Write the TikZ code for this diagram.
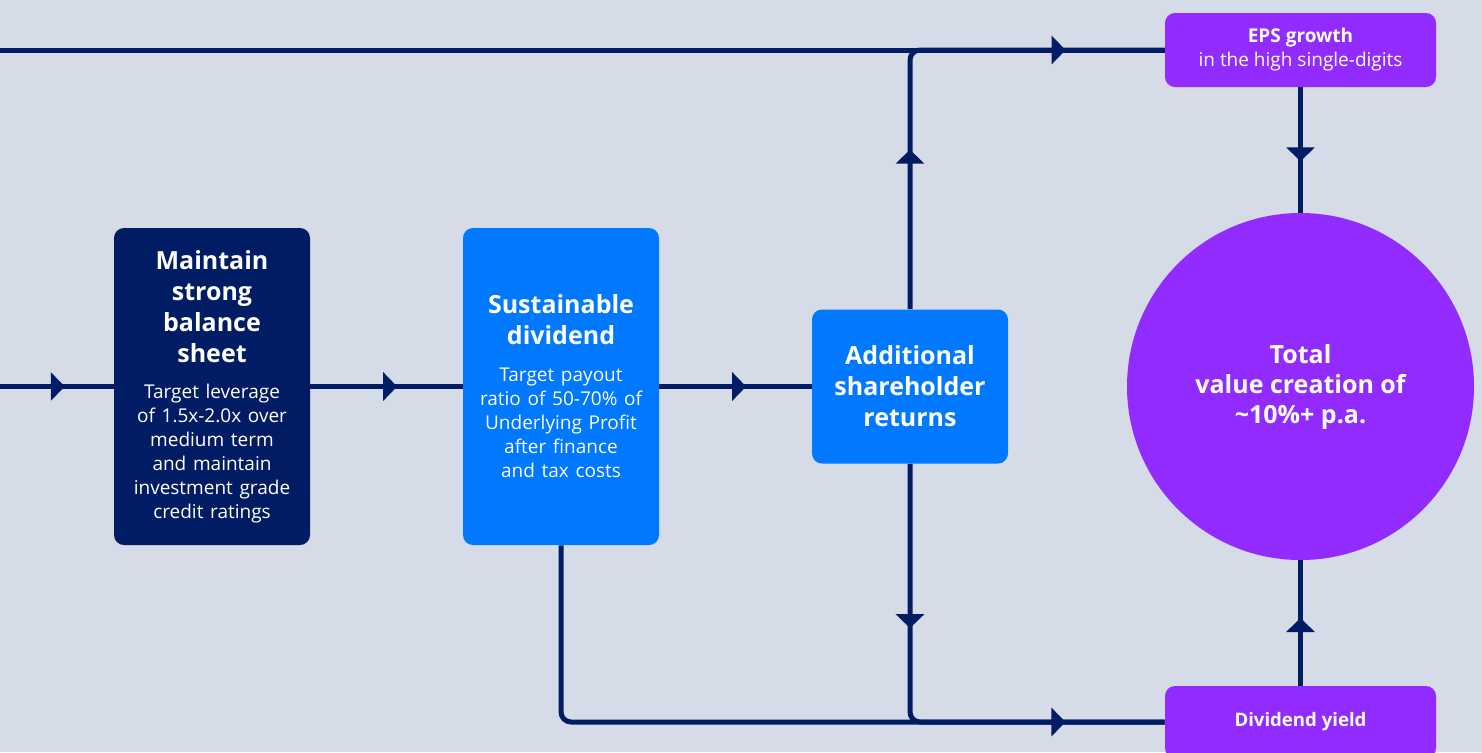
\documentclass[tikz,border=0pt]{standalone}
\usepackage{fontspec}
\setmainfont{Open Sans}
\usetikzlibrary{arrows.meta,decorations.markings}

\definecolor{bgblue}{HTML}{D5DCE8}
\definecolor{navy}{HTML}{001C64}
\definecolor{brightblue}{HTML}{0078FF}
\definecolor{purplefill}{HTML}{922BFF}

\newcommand{\boxtitle}{\fontsize{12.5}{15.5}\selectfont\bfseries}
\newcommand{\boxbody}{\fontsize{9.5}{12}\selectfont}

\tikzset{
  link/.style={draw=navy, color=navy, line width=2.5pt},
  flow at/.style={postaction={decorate, decoration={markings,
      mark=at position #1 with {\arrow{Triangle[length=7pt,width=14pt]}}}}},
  card/.style={rounded corners=5pt, text=white, align=center, inner sep=0pt,
      text width=98pt, minimum width=98pt},
  pill/.style={rounded corners=5pt, fill=purplefill, text=white, align=center,
      inner sep=0pt, minimum width=135.5pt}
}

\begin{document}
\begin{tikzpicture}[x=0.5pt, y=-0.5pt]
    % Background
    \fill[bgblue] (0,0) rectangle (1482,752);
    \useasboundingbox (0,0) rectangle (1482,752);
    \clip (0,0) rectangle (1482,752);

    % Boxes
    \node[card, fill=navy, minimum height=158.5pt] (balance) at (212,386.5)
        {{\boxtitle Maintain\\strong\\balance\\sheet\par}\vspace{6pt}
         {\boxbody Target leverage\\of 1.5x-2.0x over\\medium term\\and maintain\\investment grade\\credit ratings\par}};
    \node[card, fill=brightblue, minimum height=158.5pt] (dividend) at (561,386.5)
        {{\boxtitle Sustainable\\dividend\par}\vspace{6.5pt}
         {\boxbody Target payout\\ratio of 50-70\% of\\Underlying Profit\\after finance\\and tax costs\par}};
    \node[card, fill=brightblue, minimum height=77pt] (returns) at (910,386.5)
        {{\boxtitle Additional\\shareholder\\returns\par}};

    % Outcomes
    \node[pill, minimum height=37pt, font=\fontsize{9.5}{12}\selectfont] (eps) at (1300.5,50)
        {\textbf{EPS growth}\\in the high single-digits};
    \node[pill, minimum height=36pt, font=\fontsize{9.3}{12}\selectfont\bfseries] (yield) at (1300.5,722)
        {Dividend yield};
    \node[circle, fill=purplefill, text=white, align=center, inner sep=0pt, minimum size=173.5pt,
        font=\fontsize{12.5}{15}\selectfont\bfseries] (total) at (1300.5,386.5)
        {Total\\value creation of\\\textasciitilde10\%+ p.a.};

    % Main flow
    \coordinate (in) at (0,386.5);
    \draw[link, flow at=0.57] (in) -- (balance);
    \draw[link, flow at=0.57] (balance) -- (dividend);
    \draw[link, flow at=0.57] (dividend) -- (returns);

    % Top route
    \coordinate (topin) at (0,50);
    \draw[link, flow at=0.915] (topin) -- (eps.west);
    \draw[link, rounded corners=5pt, flow at=0.313] (returns.north) |- (eps.west);

    % Bottom route
    \draw[link, rounded corners=5pt] (dividend.south) |- (yield.west);
    \draw[link, rounded corners=5pt, flow at=0.323, flow at=0.805] (returns.south) |- (yield.west);

    % Into the circle
    \draw[link, flow at=0.59] (eps) -- (total);
    \draw[link, flow at=0.54] (yield) -- (total);
\end{tikzpicture}
\end{document}
